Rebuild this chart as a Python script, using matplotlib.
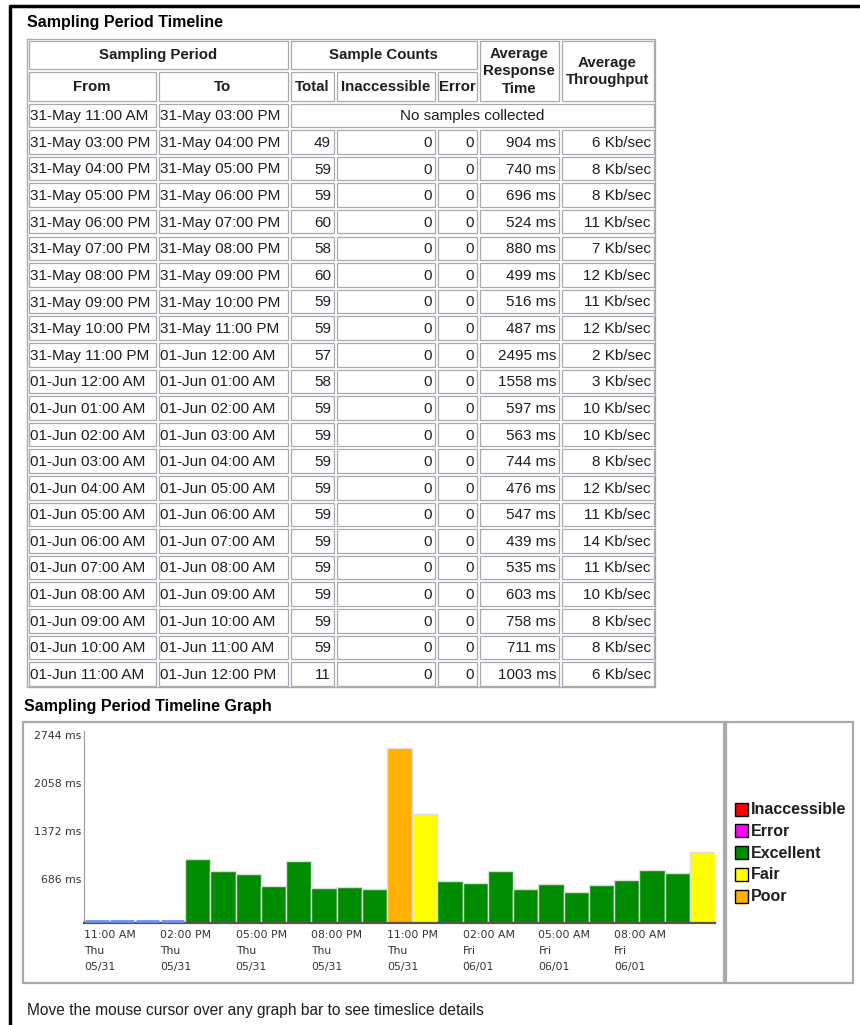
"""
Sampling period timeline: html-like table plus response time bar graph
"""
import numpy as np
import matplotlib
matplotlib.use("Agg")
import matplotlib.pyplot as plt
from matplotlib.patches import Rectangle

plt.rcParams['font.family'] = ['Liberation Sans', 'DejaVu Sans']

# table data
from_labels = ["31-May 11:00 AM", "31-May 03:00 PM", "31-May 04:00 PM", "31-May 05:00 PM",
               "31-May 06:00 PM", "31-May 07:00 PM", "31-May 08:00 PM", "31-May 09:00 PM",
               "31-May 10:00 PM", "31-May 11:00 PM", "01-Jun 12:00 AM", "01-Jun 01:00 AM",
               "01-Jun 02:00 AM", "01-Jun 03:00 AM", "01-Jun 04:00 AM", "01-Jun 05:00 AM",
               "01-Jun 06:00 AM", "01-Jun 07:00 AM", "01-Jun 08:00 AM", "01-Jun 09:00 AM",
               "01-Jun 10:00 AM", "01-Jun 11:00 AM"]
to_labels = from_labels[1:] + ["01-Jun 12:00 PM"]
# rows with samples (the first row has none)
total = [49, 59, 59, 60, 58, 60, 59, 59, 57, 58, 59, 59, 59, 59, 59, 59, 59, 59, 59, 59, 11]
inaccessible = [0] * 21
errors = [0] * 21
resp_ms = [904, 740, 696, 524, 880, 499, 516, 487, 2495, 1558, 597,
           563, 744, 476, 547, 439, 535, 603, 758, 711, 1003]
throughput = [6, 8, 8, 11, 7, 12, 11, 12, 2, 3, 10, 10, 8, 12, 11, 14, 11, 10, 8, 8, 6]
status = ["Excellent"] * 8 + ["Poor", "Fair"] + ["Excellent"] * 10 + ["Fair"]

# graph data
empty_slots = 4   # 11 AM - 3 PM, no samples
tick_times = ["11:00 AM", "02:00 PM", "05:00 PM", "08:00 PM", "11:00 PM",
              "02:00 AM", "05:00 AM", "08:00 AM"]
tick_days = ["Thu"] * 5 + ["Fri"] * 3
tick_dates = ["05/31"] * 5 + ["06/01"] * 3
y_ticks = [686, 1372, 2058, 2744]
legend_names = ["Inaccessible", "Error", "Excellent", "Fair", "Poor"]
status_colors = {"Inaccessible": "#ff0000", "Error": "#ff00ff", "Excellent": "#008c00",
                 "Fair": "#ffff00", "Poor": "#ffb000"}

W, H = 860, 1025
fig = plt.figure(figsize=(W / 100, H / 100), dpi=100)
fig.patch.set_facecolor("white")
bg = fig.add_axes([0, 0, 1, 1])
bg.set_xlim(0, W)
bg.set_ylim(H, 0)
bg.axis("off")

GRID = "#a9a9b3"
TXT = "#1e1e1e"

# page border
bg.plot([10, 10], [5, H], color="black", lw=2.5, solid_capstyle="butt")
bg.plot([9, W], [6, 6], color="black", lw=2.5, solid_capstyle="butt")


def cell(x0, y0, x1, y1):
    bg.add_patch(Rectangle((x0 + 1.5, y0 + 1.5), x1 - x0 - 3, y1 - y0 - 3,
                           fill=False, ec=GRID, lw=0.9))


# ---- table ----
cols = [27, 157, 289, 335, 436, 478, 560, 655]
head_top, head_mid, head_bot = 39, 70, 102
row_h = 26.6
n_rows = len(from_labels)
table_bot = head_bot + n_rows * row_h

bg.text(27, 23, "Sampling Period Timeline", fontsize=11.5, fontweight="bold",
        ha="left", va="center", color="black")
bg.add_patch(Rectangle((cols[0], head_top), cols[-1] - cols[0], table_bot - head_top,
                       fill=False, ec=GRID, lw=1))

hfont = dict(fontsize=10.8, fontweight="bold", color=TXT, ha="center", va="center",
             linespacing=1.35)
spans = [(0, 2, head_top, head_mid, "Sampling Period"),
         (2, 5, head_top, head_mid, "Sample Counts"),
         (5, 6, head_top, head_bot, "Average\nResponse\nTime"),
         (6, 7, head_top, head_bot, "Average\nThroughput"),
         (0, 1, head_mid, head_bot, "From"),
         (1, 2, head_mid, head_bot, "To"),
         (2, 3, head_mid, head_bot, "Total"),
         (3, 4, head_mid, head_bot, "Inaccessible"),
         (4, 5, head_mid, head_bot, "Error")]
for c0, c1, y0, y1, label in spans:
    cell(cols[c0], y0, cols[c1], y1)
    bg.text((cols[c0] + cols[c1]) / 2, (y0 + y1) / 2 + 1, label, **hfont)

dfont = dict(fontsize=11, color=TXT, va="center")
for i in range(n_rows):
    y0 = head_bot + i * row_h
    y1 = y0 + row_h
    yc = (y0 + y1) / 2 + 1
    cell(cols[0], y0, cols[1], y1)
    cell(cols[1], y0, cols[2], y1)
    bg.text(cols[0] + 3, yc, from_labels[i], ha="left", **dfont)
    bg.text(cols[1] + 3, yc, to_labels[i], ha="left", **dfont)
    if i == 0:
        cell(cols[2], y0, cols[7], y1)
        bg.text((cols[2] + cols[7]) / 2, yc, "No samples collected", ha="center", **dfont)
        continue
    k = i - 1
    vals = [str(total[k]), str(inaccessible[k]), str(errors[k]),
            f"{resp_ms[k]} ms", f"{throughput[k]} Kb/sec"]
    for j, v in enumerate(vals):
        cell(cols[2 + j], y0, cols[3 + j], y1)
        bg.text(cols[3 + j] - 4, yc, v, ha="right", **dfont)

# ---- graph ----
bg.text(24, 706, "Sampling Period Timeline Graph", fontsize=11.5, fontweight="bold",
        ha="left", va="center", color="black")
bg.add_patch(Rectangle((22.5, 722), 701.5, 261, fill=False, ec=GRID, lw=1.6))
bg.add_patch(Rectangle((726, 722), 127, 261, fill=False, ec=GRID, lw=1.6))

ax_l, ax_r, ax_b, ax_t = 84.3, 715, 922.7, 730.6
ax = fig.add_axes([ax_l / W, 1 - ax_b / H, (ax_r - ax_l) / W, (ax_b - ax_t) / H])
ax.set_facecolor("none")

x_bars = np.arange(empty_slots, empty_slots + len(resp_ms))
ax.bar(x_bars, resp_ms, width=1, align="edge",
       color=[status_colors[s] for s in status], edgecolor="#dedede", lw=1, zorder=2)
slots = np.arange(empty_slots)
ax.hlines([20] * empty_slots, slots + 0.03, slots + 0.97, colors="#6f8ff2", lw=2, zorder=3)

ax.set_xlim(0, empty_slots + len(resp_ms))
ax.set_ylim(0, y_ticks[-1])
for s in ["top", "right"]:
    ax.spines[s].set_visible(False)
ax.spines["bottom"].set_color("#555555")
ax.spines["bottom"].set_linewidth(1.6)
ax.spines["left"].set_color("#999999")
ax.spines["left"].set_linewidth(0.8)
ax.spines["left"].set_linestyle((0, (1, 1)))

ax.set_yticks(y_ticks)
ax.set_yticklabels([f"{v} ms" for v in y_ticks], family="DejaVu Sans")
ax.tick_params(axis="y", length=0, pad=2, labelsize=7.8, labelcolor="#333333")
for lbl in ax.get_yticklabels():
    lbl.set_va("top")

ax.set_xticks(np.arange(0, 3 * len(tick_times), 3))
ax.set_xticklabels([f"{t}\n{d}\n{dt}" for t, d, dt in zip(tick_times, tick_days, tick_dates)],
                   family="DejaVu Sans", ha="left", linespacing=1.75)
ax.tick_params(axis="x", length=0, pad=5, labelsize=7.8, labelcolor="#333333")

# legend
leg_y = [809, 830.5, 852.5, 874, 896]
for name, yy in zip(legend_names, leg_y):
    bg.add_patch(Rectangle((735, yy - 6.5), 13, 13, fc=status_colors[name], ec="black", lw=1))
    bg.text(751, yy + 0.5, name, fontsize=11.5, fontweight="bold", ha="left", va="center",
            color=TXT)

bg.text(27, 1011, "Move the mouse cursor over any graph bar to see timeslice details",
        fontsize=11.2, ha="left", va="center", color=TXT)

fig.savefig("out.png", dpi=100, facecolor="white")
